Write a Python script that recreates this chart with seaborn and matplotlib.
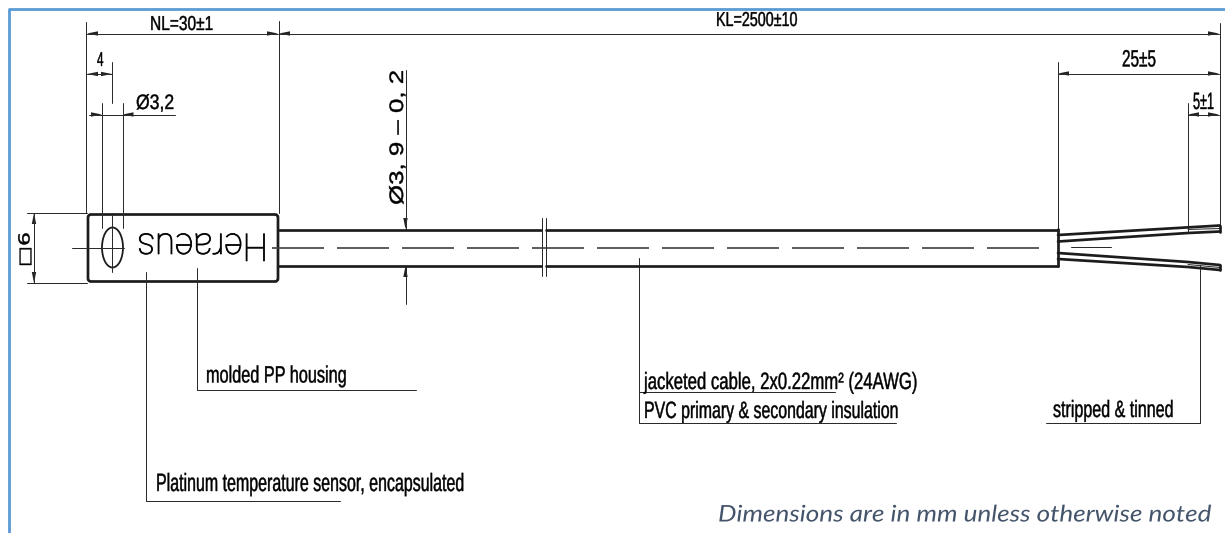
import matplotlib
matplotlib.use("Agg")
import matplotlib.pyplot as plt
from matplotlib.patches import Ellipse, FancyBboxPatch
from matplotlib.patheffects import AbstractPathEffect
from matplotlib.transforms import Affine2D
import pandas as pd
import seaborn as sns

# ── Drawing, in pixels (x, y down) ───────────────────────────────────────────
FRAME = [[(9, 533), (9, 9), (1225, 9)]]

THICK = [
    [(279, 229.5), (541, 229.5)], [(546, 229.5), (1058, 229.5)],
    [(279, 265.5), (541, 265.5)], [(546, 265.5), (1058, 265.5)],
    [(1058, 229), (1058, 266)],
    [(1058, 235), (1220, 225.5)], [(1058, 241.5), (1188, 233), (1220, 231.5)],
    [(1058, 253), (1188, 262), (1220, 265)], [(1058, 259), (1188, 267), (1220, 270)],
    [(1220, 225.5), (1220, 231.5)], [(1220, 265), (1220, 270)],
]

THIN = [
    # extension lines
    [(86, 22), (86, 213)], [(278.5, 21), (278.5, 213)], [(1219.5, 23), (1219.5, 225)],
    [(112, 62), (112, 103)], [(112, 213), (112, 272)],
    [(102, 103), (102, 228)], [(122.5, 103), (122.5, 228)],
    [(27, 213), (87, 213)], [(27, 283), (87, 283)],
    [(1058, 62), (1058, 229)], [(1188, 103), (1188, 232)],
    # dimension lines
    [(87, 33.5), (278, 33.5)], [(279, 33.5), (1219, 33.5)],
    [(87, 74), (112, 74)], [(89, 114.5), (175, 114.5)], [(34, 213), (34, 283)],
    [(1058, 73.5), (1219, 73.5)], [(1188, 114.5), (1219, 114.5)],
    [(405.5, 70), (405.5, 229)], [(405.5, 266), (405.5, 304)],
    # break marks
    [(541.5, 218), (541.5, 276)], [(545.5, 218), (545.5, 276)],
    # leaders
    [(145.5, 272), (145.5, 501), (340, 501)],
    [(197, 268), (197, 389.5), (416, 389.5)],
    [(639, 258), (639, 423), (896, 423)],
    [(639, 392), (835, 392)],
    [(1200, 265), (1200, 423), (1046, 423)],
    # centre marks
    [(72, 247.5), (124, 247.5)],
    [(1071, 247), (1111, 247)],
    # stripped conductor ends
    [(1188, 229.5), (1220, 228.5)], [(1188, 264.5), (1220, 267.5)],
]

CENTRE_LINE = [[(272, 247.5), (1050, 247.5)]]

# tip x, tip y, direction x, direction y
ARROWS = [
    (87, 33.5, 1, 0), (278, 33.5, -1, 0), (279, 33.5, 1, 0), (1219, 33.5, -1, 0),
    (87, 74, 1, 0), (112, 74, -1, 0), (102, 114.5, -1, 0), (122.5, 114.5, 1, 0),
    (34, 213, 0, 1), (34, 283, 0, -1),
    (1058, 73.5, 1, 0), (1219, 73.5, -1, 0), (1188, 114.5, 1, 0), (1219, 114.5, -1, 0),
    (405.5, 229, 0, -1), (405.5, 266, 0, 1),
]

SANS = ["Liberation Sans", "DejaVu Sans"]
TEXT_COLOR = "#000000"
LINE_COLOR = "#2b2b2b"
FRAME_COLOR = "#5B9BD5"
NOTE_COLOR = "#44546A"


class Squeeze(AbstractPathEffect):
    # the source lettering is narrower than any installed face
    def __init__(self, anchor, sx=1.0, sy=1.0, bold=0.0, color=TEXT_COLOR):
        super().__init__()
        self.anchor, self.sx, self.sy, self.bold, self.color = anchor, sx, sy, bold, color

    def draw_path(self, renderer, gc, tpath, affine, rgbFace=None):
        ax_, ay_ = self.anchor
        fit = Affine2D().translate(-ax_, -ay_).scale(self.sx, self.sy).translate(ax_, ay_)
        gc0 = renderer.new_gc()
        gc0.copy_properties(gc)
        gc0 = self._update_gc(gc0, {"linewidth": self.bold, "foreground": self.color})
        renderer.draw_path(gc0, tpath, affine + fit, rgbFace)
        gc0.restore()


def px(n):
    # pixels to points at dpi 100
    return n * 0.72


def draw_lines(ax, polylines, color, width, **kws):
    rows = []
    for i, line in enumerate(polylines):
        for j, (x, y) in enumerate(line):
            rows.append({"seg": i, "order": j, "x": x, "y": y})
    df = pd.DataFrame(rows)
    sns.lineplot(data=df, x="x", y="y", units="seg", estimator=None, sort=False,
                 color=color, linewidth=px(width), ax=ax, legend=False, **kws)


sns.set_theme(style="white")
plt.rcParams["lines.scale_dashes"] = False
plt.rcParams["font.family"] = SANS

fig = plt.figure(figsize=(12.25, 5.33), dpi=100)
ax = fig.add_axes([0, 0, 1, 1])
ax.set_xlim(0, 1225)
ax.set_ylim(533, 0)

draw_lines(ax, THIN, LINE_COLOR, 1.0)
draw_lines(ax, THICK, "#1c1c1c", 2.7)
draw_lines(ax, FRAME, FRAME_COLOR, 2.8)
draw_lines(ax, CENTRE_LINE, "#444444", 1.7, linestyle=(0, (px(52), px(13))))

# housing and hole
ax.add_patch(FancyBboxPatch((88, 214.5), 190, 67, boxstyle="round,pad=0,rounding_size=3",
                            fill=False, ec="#1c1c1c", lw=px(2.7)))
ax.add_patch(Ellipse((112.5, 247.5), 21, 40, fill=False, ec="#1c1c1c", lw=px(1.8)))

for tx, ty, dx, dy in ARROWS:
    length, half = 11, 2.2
    bx, by = tx + dx * length, ty + dy * length
    ax.fill([tx, bx - dy * half, bx + dy * half], [ty, by + dx * half, by - dx * half],
            color="#222222", lw=0)


def label(x, y, s, size, span, rotation=0, ha="left", va="baseline", color=TEXT_COLOR,
          bold=0.3, **kws):
    # span = length of the lettering in pixels along its reading direction
    t = ax.text(x, y, s, fontsize=size, rotation=rotation, ha=ha, va=va, color=color, **kws)
    box = t.get_window_extent(fig.canvas.get_renderer())
    anchor = ax.transData.transform((x, y))
    if rotation == 90:
        t.set_path_effects([Squeeze(anchor, sy=span / box.height, bold=bold, color=color)])
    else:
        t.set_path_effects([Squeeze(anchor, sx=span / box.width, bold=bold, color=color)])
    return t


# dimensions
label(150, 30, "NL=30±1", 14.5, 63)
label(716, 26, "KL=2500±10", 14.5, 81)
label(1122, 66.5, "25±5", 17, 34)
label(1214, 109, "5±1", 17, 21, ha="right")
label(97, 66, "4", 14.5, 6.5)
label(136, 109, "Ø3,2", 15, 38)
label(25, 249.5, "□6", 11, 35, rotation=90, ha="center", va="center", family=["DejaVu Sans"])
label(398.5, 137.5, "Ø3, 9 – 0, 2", 14, 135, rotation=90, ha="center", va="center")
label(202.5, 244.5, "Heraeus", 27.5, 131, rotation=180, ha="center", va="center",
      family=["Roboto"], weight="light", bold=0.6)

# callouts
label(206, 382.5, "molded PP housing", 17, 141)
label(156, 491, "Platinum temperature sensor, encapsulated", 18, 308)
label(644, 389, "jacketed cable, 2x0.22mm² (24AWG)", 17, 274)
label(644, 418, "PVC primary & secondary insulation", 17, 255)
label(1113.5, 417, "stripped & tinned", 17, 121, ha="center")

label(1211, 521.5, "Dimensions are in mm unless otherwise noted", 16.5, 493, ha="right",
      style="italic", color=NOTE_COLOR, family=["Lato"], bold=0.0)

ax.axis("off")

fig.savefig("out.png", dpi=100, facecolor="white")
plt.close(fig)
